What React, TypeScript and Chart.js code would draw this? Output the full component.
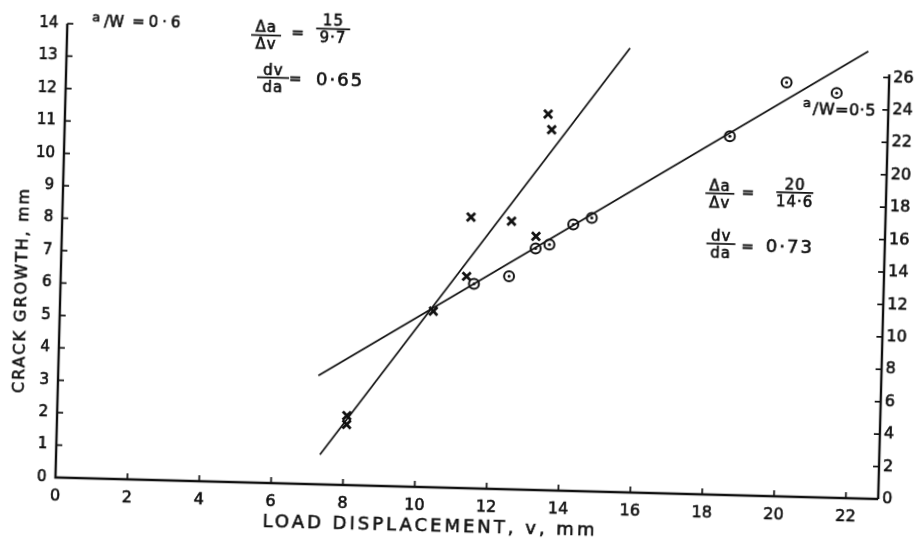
import React, { useEffect, useRef } from "react";
import { Chart, registerables } from "chart.js";

Chart.register(...registerables);

// ---- axis ticks ----
const xTickValues = [0, 2, 4, 6, 8, 10, 12, 14, 16, 18, 20, 22];
const leftTickValues = [0, 1, 2, 3, 4, 5, 6, 7, 8, 9, 10, 11, 12, 13, 14];
const rightTickValues = [0, 2, 4, 6, 8, 10, 12, 14, 16, 18, 20, 22, 24, 26];

// ---- a/W = 0.6 (crosses, left axis) ----
const vAW06 = [8.06, 8.06, 10.39, 11.29, 11.37, 12.5, 13.19, 13.44, 13.55];
const aAW06 = [2.14, 1.87, 5.43, 6.53, 8.36, 8.27, 7.82, 11.6, 11.12];

// ---- a/W = 0.5 (circles, right axis) ----
const vAW05 = [11.5, 12.47, 13.19, 13.57, 14.22, 14.73, 18.51, 20.05, 21.45];
const aAW05 = [12.61, 13.14, 14.89, 15.15, 16.43, 16.87, 22.12, 25.54, 24.97];

// ---- fitted lines ----
const vFit06 = [7.34, 15.67];
const aFit06 = [0.92, 13.7];
const vFit05 = [7.24, 22.3];
const aFit05 = [6.71, 27.58];

const X_MAX = 22.9;
const LEFT_MAX = 14;
const RIGHT_MAX = 28;
const RIGHT_AXIS_TOP = 26.2;

const INK = "#111111";
const FONT = '"DejaVu Sans", sans-serif';

const toPoints = (xs: number[], ys: number[]) => xs.map((x, i) => ({ x, y: ys[i] }));

const handDrawn = {
  id: "handDrawn",
  afterDatasetsDraw(chart: any) {
    const { ctx, scales, chartArea } = chart;
    const xs = scales.x;
    const yl = scales.y;
    const yr = scales.y2;
    const X = (v: number) => xs.getPixelForValue(v);
    const YL = (a: number) => yl.getPixelForValue(a);
    const YR = (a: number) => yr.getPixelForValue(a);

    ctx.save();
    ctx.strokeStyle = INK;
    ctx.fillStyle = INK;

    // axis lines
    ctx.lineWidth = 2.4;
    ctx.beginPath();
    ctx.moveTo(X(0), YL(LEFT_MAX));
    ctx.lineTo(X(0), YL(0));
    ctx.lineTo(X(X_MAX), YL(0));
    ctx.stroke();
    ctx.beginPath();
    ctx.moveTo(X(X_MAX), YR(0));
    ctx.lineTo(X(X_MAX), YR(RIGHT_AXIS_TOP));
    ctx.stroke();

    // inward ticks
    ctx.lineWidth = 1.7;
    leftTickValues.forEach((t) => {
      if (t === 0) return;
      ctx.beginPath();
      ctx.moveTo(X(0), YL(t));
      ctx.lineTo(X(0) + 6, YL(t));
      ctx.stroke();
    });
    xTickValues.forEach((t) => {
      if (t === 0) return;
      ctx.beginPath();
      ctx.moveTo(X(t), YL(0));
      ctx.lineTo(X(t), YL(0) - 6);
      ctx.stroke();
    });
    rightTickValues.forEach((t) => {
      if (t === 0) return;
      ctx.beginPath();
      ctx.moveTo(X(X_MAX), YR(t));
      ctx.lineTo(X(X_MAX) - 6, YR(t));
      ctx.stroke();
    });

    const ink = (s: string, x: number, y: number) => {
      ctx.lineWidth = 0.6;
      ctx.fillText(s, x, y);
      ctx.strokeText(s, x, y);
    };
    const txt = (s: string, x: number, y: number, size: number, align: string = "center", spacing = 0) => {
      ctx.font = `${size}px ${FONT}`;
      ctx.textAlign = align;
      ctx.textBaseline = "middle";
      (ctx as any).letterSpacing = `${spacing}px`;
      ink(s, x, y);
    };
    const frac = (top: string, bottom: string, cx: number, cy: number, size: number, barW: number, spacing = 1) => {
      ctx.font = `${size}px ${FONT}`;
      ctx.textAlign = "center";
      (ctx as any).letterSpacing = `${spacing}px`;
      ctx.textBaseline = "alphabetic";
      ink(top, cx, cy - 3);
      ink(bottom, cx, cy + 3 + Math.round(size * 0.73));
      ctx.lineWidth = 1.7;
      ctx.beginPath();
      ctx.moveTo(cx - barW / 2, cy);
      ctx.lineTo(cx + barW / 2, cy);
      ctx.stroke();
    };

    // a/W = 0.6 block
    const x06 = X(0.686);
    const y06 = YL(14.08);
    txt("a", x06, y06 - 4, 13, "left");
    txt("/W", x06 + 12, y06 + 1, 15, "left");
    txt("=0·6", x06 + 40, y06, 15, "left", 4);
    frac("Δa", "Δv", X(5.537), YL(13.8), 15, 30);
    txt("=", X(6.414), YL(13.88), 15);
    frac("15", "9·7", X(7.398), YL(14.05), 15, 34);
    frac("dv", "da", X(5.762), YL(12.5), 15, 32);
    txt("=", X(6.377), YL(12.45), 15);
    txt("0·65", X(7.627), YL(12.45), 18, "center", 2);

    // a/W = 0.5 block
    frac("Δa", "Δv", X(18.275), YL(9.29), 15, 29);
    txt("=", X(19.054), YL(9.31), 15);
    frac("20", "14·6", X(20.359), YL(9.38), 15, 37);
    frac("dv", "da", X(18.339), YL(7.74), 15, 29);
    txt("=", X(19.079), YL(7.64), 15);
    txt("0·73", X(20.261), YL(7.67), 18, "center", 2);
    txt("a", X(20.52), YL(12.127), 13, "left");
    txt("/W=0·5", X(20.8), YL(11.95), 16, "left", 0.5);

    // axis titles
    ctx.save();
    ctx.translate(chartArea.left - 38.4, (chartArea.top + chartArea.bottom) / 2 + 40.5);
    ctx.rotate(-Math.PI / 2);
    txt("CRACK GROWTH, mm", 0, 0, 16, "center", 2);
    ctx.restore();
    txt("LOAD DISPLACEMENT, v, mm", 436.7, chartArea.bottom + 39.7, 18, "center", 3);

    ctx.restore();
  },
};

export default function App() {
  const ref = useRef<HTMLCanvasElement | null>(null);

  useEffect(() => {
    if (!ref.current) return;
    const tickOpts = (size: number, padding: number) => ({
      padding,
      color: INK,
      font: { family: FONT, size },
      textStrokeColor: INK,
      textStrokeWidth: 0.6,
      maxRotation: 0,
    });
    const chart = new Chart(ref.current, {
      type: "scatter",
      data: {
        datasets: [
          {
            type: "line",
            data: toPoints(vFit06, aFit06),
            yAxisID: "y",
            borderColor: INK,
            borderWidth: 1.7,
            pointRadius: 0,
            fill: false,
          },
          {
            type: "line",
            data: toPoints(vFit05, aFit05),
            yAxisID: "y2",
            borderColor: INK,
            borderWidth: 1.7,
            pointRadius: 0,
            fill: false,
          },
          {
            data: toPoints(vAW06, aAW06),
            yAxisID: "y",
            pointStyle: "crossRot",
            pointRadius: 5.8,
            borderWidth: 2.8,
            borderColor: INK,
            backgroundColor: INK,
          },
          {
            data: toPoints(vAW05, aAW05),
            yAxisID: "y2",
            pointStyle: "circle",
            pointRadius: 5,
            borderWidth: 2,
            borderColor: INK,
            backgroundColor: "rgba(0,0,0,0)",
          },
          {
            data: toPoints(vAW05, aAW05),
            yAxisID: "y2",
            pointStyle: "circle",
            pointRadius: 1.5,
            borderWidth: 0,
            backgroundColor: INK,
          },
        ],
      },
      options: {
        animation: false,
        responsive: false,
        events: [],
        layout: { padding: { top: 34, left: 0, right: 0, bottom: 0 } },
        plugins: { legend: { display: false }, tooltip: { enabled: false } },
        scales: {
          x: {
            type: "linear",
            min: 0,
            max: X_MAX,
            grid: { display: false, drawTicks: false },
            border: { display: false },
            ticks: tickOpts(16, 9),
            afterBuildTicks: (s: any) => {
              s.ticks = xTickValues.map((value) => ({ value }));
            },
            afterFit: (s: any) => {
              s.height = 54;
            },
          },
          y: {
            type: "linear",
            position: "left",
            min: 0,
            max: LEFT_MAX,
            grid: { display: false, drawTicks: false },
            border: { display: false },
            ticks: tickOpts(15, 9),
            afterBuildTicks: (s: any) => {
              s.ticks = leftTickValues.map((value) => ({ value }));
            },
            afterFit: (s: any) => {
              s.width = 61;
            },
          },
          y2: {
            type: "linear",
            position: "right",
            min: 0,
            max: RIGHT_MAX,
            grid: { display: false, drawTicks: false },
            border: { display: false },
            ticks: tickOpts(16, 4),
            afterBuildTicks: (s: any) => {
              s.ticks = rightTickValues.map((value) => ({ value }));
            },
            afterFit: (s: any) => {
              s.width = 37;
            },
          },
        },
      },
      plugins: [handDrawn],
    } as any);
    return () => chart.destroy();
  }, []);

  return (
    <div
      style={{
        position: "fixed",
        left: 0,
        top: 0,
        width: 921,
        height: 542,
        background: "#ffffff",
        transform: "rotate(1.5deg)",
        transformOrigin: "460.5px 271px",
      }}
    >
      <canvas ref={ref} width={921} height={542} style={{ display: "block" }} />
    </div>
  );
}
